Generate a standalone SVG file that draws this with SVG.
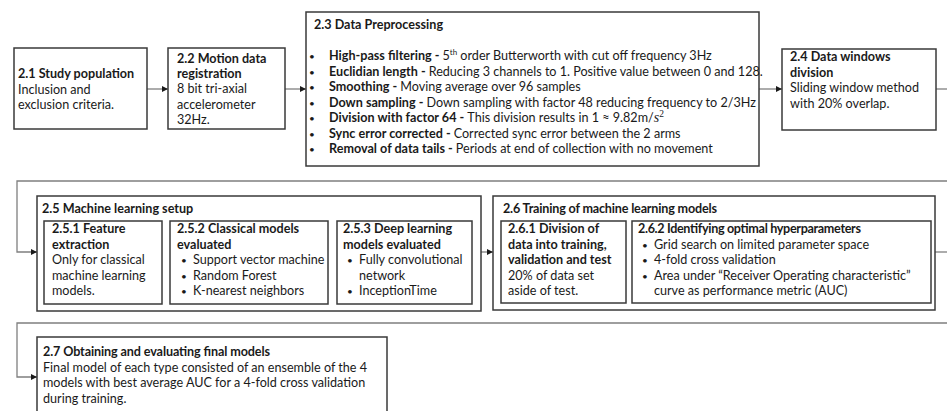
<svg xmlns="http://www.w3.org/2000/svg" width="947" height="411" viewBox="0 0 947 411">
  <defs>
    <marker id="arrow" viewBox="0 0 10 10" refX="10" refY="5" markerWidth="6" markerHeight="6" markerUnits="userSpaceOnUse" orient="auto">
      <path d="M0,0 L10,5 L0,10 z" fill="#1a1a1a"/>
    </marker>
    <style>
      text { font-family: Lato, "Open Sans", "Liberation Sans", sans-serif; font-size: 12.6px; fill: #1a1a1a; }
      .b { font-weight: bold; }
      .dot { font-size: 10px; }
      .box { fill: #ffffff; stroke: #3a3a3a; stroke-width: 1.5; }
      .link { fill: none; stroke: #7f7f7f; stroke-width: 1.3; }
      .arr { marker-end: url(#arrow); }
      .math { font-family: "Liberation Serif", serif; }
    </style>
  </defs>
  <rect width="947" height="411" fill="#ffffff"/>

  <!-- connectors -->
  <g id="connectors">
    <path class="link arr" d="M147,89 H168"/>
    <path class="link arr" d="M285,89 H306"/>
    <path class="link arr" d="M759,89 H782"/>
    <path class="link" d="M936,89 H947"/>
    <path class="link arr" d="M947,181 H17 V252 H37"/>
    <path class="link arr" d="M481,252 H493"/>
    <path class="link" d="M935,252 H947"/>
    <path class="link arr" d="M947,323 H17 V377 H37"/>
  </g>

  <g id="n21">
    <rect class="box" x="14" y="48" width="133" height="81"/>
    <text x="18" y="78"><tspan class="b">2.1 Study population</tspan><tspan x="18" dy="15.5">Inclusion and</tspan><tspan x="18" dy="15.5">exclusion criteria.</tspan></text>
  </g>

  <g id="n22">
    <rect class="box" x="168" y="48" width="117" height="81"/>
    <text x="177" y="63"><tspan class="b">2.2 Motion data</tspan><tspan class="b" x="177" dy="15">registration</tspan><tspan x="177" dy="15">8 bit tri-axial</tspan><tspan x="177" dy="15.5">accelerometer</tspan><tspan x="177" dy="15.5">32Hz.</tspan></text>
  </g>

  <g id="n23">
    <rect class="box" x="306" y="12" width="453" height="154"/>
    <text x="314" y="29" class="b">2.3 Data Preprocessing</text>
    <g>
      <text class="dot" x="309" y="60">•</text><text x="329" y="60"><tspan class="b">High-pass filtering - </tspan>5<tspan font-size="8" baseline-shift="super">th</tspan> order Butterworth with cut off frequency 3Hz</text>
      <text class="dot" x="309" y="75.5">•</text><text x="329" y="75.5"><tspan class="b">Euclidian length - </tspan>Reducing 3 channels to 1. Positive value between 0 and 128.</text>
      <text class="dot" x="309" y="91">•</text><text x="329" y="91"><tspan class="b">Smoothing - </tspan>Moving average over 96 samples</text>
      <text class="dot" x="309" y="106.5">•</text><text x="329" y="106.5"><tspan class="b">Down sampling - </tspan> Down sampling with factor 48 reducing frequency to 2/3Hz</text>
      <text class="dot" x="309" y="122">•</text><text x="329" y="122"><tspan class="b">Division with factor 64 - </tspan>This division results in 1 ≈ 9.82m/<tspan class="math" font-style="italic" font-size="14">s</tspan><tspan class="math" font-size="9.5" baseline-shift="super">2</tspan></text>
      <text class="dot" x="309" y="137.5">•</text><text x="329" y="137.5"><tspan class="b">Sync error corrected - </tspan>Corrected sync error between the 2 arms</text>
      <text class="dot" x="309" y="153">•</text><text x="329" y="153"><tspan class="b">Removal of data tails - </tspan>Periods at end of collection with no movement</text>
    </g>
  </g>

  <g id="n24">
    <rect class="box" x="782" y="49" width="154" height="81"/>
    <text x="790" y="61"><tspan class="b">2.4 Data windows</tspan><tspan class="b" x="790" dy="15.5">division</tspan><tspan x="790" dy="15.5">Sliding window method</tspan><tspan x="790" dy="15.5">with 20% overlap.</tspan></text>
  </g>

  <g id="n25">
    <rect class="box" x="37" y="196" width="444" height="115"/>
    <text x="42" y="213" class="b">2.5 Machine learning setup</text>
  </g>

  <g id="n251">
    <rect class="box" x="44" y="221" width="118" height="83"/>
    <text x="52" y="233"><tspan class="b">2.5.1 Feature</tspan><tspan class="b" x="52" dy="15.5">extraction</tspan><tspan x="52" dy="15.5">Only for classical</tspan><tspan x="52" dy="15.5">machine learning</tspan><tspan x="52" dy="15.5">models.</tspan></text>
  </g>

  <g id="n252">
    <rect class="box" x="170" y="221" width="158" height="83"/>
    <text x="177" y="233"><tspan class="b">2.5.2 Classical models</tspan><tspan class="b" x="177" dy="15.5">evaluated</tspan></text>
    <text class="dot" x="181" y="264">•</text><text x="193" y="264">Support vector machine</text>
    <text class="dot" x="181" y="279.5">•</text><text x="193" y="279.5">Random Forest</text>
    <text class="dot" x="181" y="295">•</text><text x="193" y="295">K-nearest neighbors</text>
  </g>

  <g id="n253">
    <rect class="box" x="337" y="221" width="135" height="83"/>
    <text x="343" y="233"><tspan class="b">2.5.3 Deep learning</tspan><tspan class="b" x="343" dy="15.5">models evaluated</tspan></text>
    <text class="dot" x="347" y="264">•</text><text x="359" y="264">Fully convolutional</text>
    <text x="359" y="279.5">network</text>
    <text class="dot" x="347" y="295">•</text><text x="359" y="295">InceptionTime</text>
  </g>

  <g id="n26">
    <rect class="box" x="493" y="196" width="442" height="114"/>
    <text x="503" y="213" class="b" textLength="214" lengthAdjust="spacing">2.6 Training of machine learning models</text>
  </g>

  <g id="n261">
    <rect class="box" x="501" y="221" width="125" height="82"/>
    <text x="508" y="233"><tspan class="b">2.6.1 Division of</tspan><tspan class="b" x="508" dy="15.5">data into training,</tspan><tspan class="b" x="508" dy="15.5">validation and test</tspan><tspan x="508" dy="15.5">20% of data set</tspan><tspan x="508" dy="15.5">aside of test.</tspan></text>
  </g>

  <g id="n262">
    <rect class="box" x="632" y="221" width="299" height="82"/>
    <text x="638" y="233" class="b" textLength="223" lengthAdjust="spacing">2.6.2 Identifying optimal hyperparameters</text>
    <text class="dot" x="642" y="248.5">•</text><text x="654" y="248.5">Grid search on limited parameter space</text>
    <text class="dot" x="642" y="264">•</text><text x="654" y="264">4-fold cross validation</text>
    <text class="dot" x="642" y="279.5">•</text><text x="654" y="279.5">Area under “Receiver Operating characteristic”</text>
    <text x="654" y="295">curve as performance metric (AUC)</text>
  </g>

  <g id="n27">
    <rect class="box" x="37" y="337" width="350" height="90"/>
    <text x="43" y="356" class="b" textLength="227" lengthAdjust="spacing">2.7 Obtaining and evaluating final models</text>
    <text x="43" y="371.5">Final model of each type consisted of an ensemble of the 4<tspan x="43" dy="15.5">models with best average AUC for a 4-fold cross validation</tspan><tspan x="43" dy="15.5">during training.</tspan></text>
  </g>
</svg>
